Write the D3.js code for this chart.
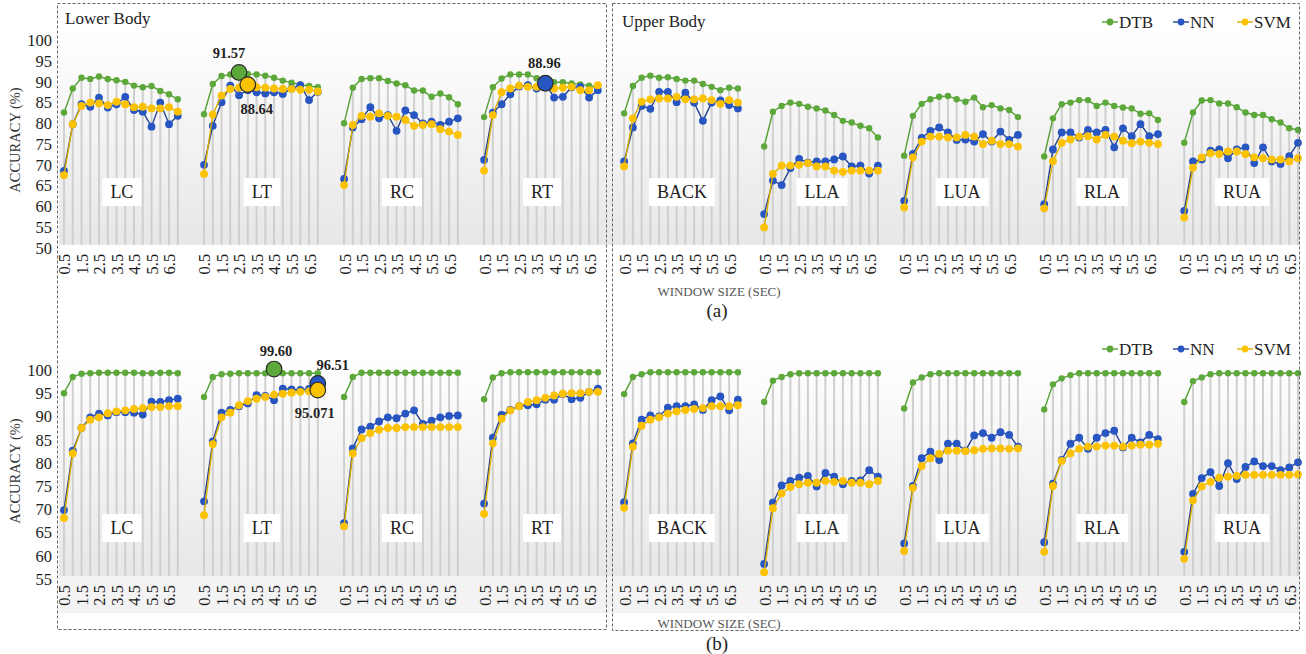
<!DOCTYPE html>
<html>
<head>
<meta charset="utf-8">
<script src="https://cdn.jsdelivr.net/npm/d3@7"></script>
<style>
body { margin: 0; background: #fff; }
svg { display: block; font-family: "Liberation Serif", "Times New Roman", serif; }
</style>
</head>
<body>
<svg id="chart" width="1306" height="654"></svg>
<script>
// categories
var groups = ["LC", "LT", "RC", "RT", "BACK", "LLA", "LUA", "RLA", "RUA"];
var windows = [0.5, 1, 1.5, 2, 2.5, 3, 3.5, 4, 4.5, 5, 5.5, 6, 6.5, 7];
var tickWindows = [0.5, 1.5, 2.5, 3.5, 4.5, 5.5, 6.5];
var seriesNames = ["DTB", "NN", "SVM"];

// (a) accuracy, one row per group (same order as groups)
var dtbA = [
  [81.9, 87.7, 90.3, 90.0, 90.6, 90.0, 89.7, 89.3, 88.4, 88.0, 88.3, 87.1, 86.3, 85.1],
  [81.5, 88.8, 90.7, 91.1, 91.57, 91.2, 91.1, 90.8, 90.3, 89.6, 89.1, 88.6, 88.3, 88.0],
  [79.3, 87.9, 90.0, 90.2, 90.2, 89.5, 88.9, 88.5, 87.2, 87.2, 85.7, 86.5, 85.6, 83.9],
  [80.8, 88.0, 90.1, 91.1, 91.1, 91.1, 90.2, 89.8, 89.2, 89.2, 88.9, 88.7, 88.4, 88.1],
  [81.7, 88.3, 90.3, 90.8, 90.3, 90.4, 90.0, 89.6, 89.6, 88.8, 88.1, 87.3, 87.9, 87.7],
  [73.7, 82.1, 83.5, 84.3, 84.0, 83.3, 82.9, 82.4, 81.3, 79.9, 79.5, 78.7, 78.1, 75.9],
  [71.5, 81.1, 84.0, 85.1, 85.7, 85.9, 85.1, 84.5, 85.5, 83.2, 83.7, 82.9, 82.5, 80.8],
  [71.3, 80.5, 83.9, 84.3, 84.9, 84.9, 83.5, 84.3, 83.5, 83.1, 82.9, 81.6, 81.7, 80.1],
  [74.6, 81.9, 84.8, 84.9, 84.1, 84.1, 83.2, 81.9, 81.3, 81.3, 80.3, 79.5, 78.1, 77.7]
];
var nnA = [
  [67.8, 79.1, 83.9, 83.3, 85.5, 83.1, 83.9, 85.7, 82.5, 82.1, 78.5, 84.3, 79.1, 81.1],
  [69.3, 78.7, 84.4, 88.4, 86.1, 87.3, 86.8, 86.5, 86.8, 86.4, 87.7, 88.5, 84.9, 86.9],
  [65.9, 78.3, 80.3, 83.2, 80.5, 81.3, 77.5, 82.4, 81.3, 79.3, 79.7, 78.9, 79.7, 80.5],
  [70.5, 81.9, 83.9, 86.3, 88.2, 88.5, 87.7, 88.96, 85.5, 85.7, 88.0, 88.1, 85.5, 87.3],
  [70.1, 78.3, 83.5, 82.8, 86.9, 86.9, 84.4, 86.7, 84.3, 79.9, 84.3, 84.8, 83.7, 82.9],
  [57.4, 65.5, 64.4, 68.5, 70.7, 69.8, 70.1, 70.1, 70.6, 71.3, 68.9, 69.1, 67.2, 69.1],
  [60.6, 71.9, 75.8, 77.5, 78.3, 77.1, 75.3, 75.4, 74.9, 76.7, 74.9, 77.3, 75.3, 76.5],
  [59.8, 73.0, 77.1, 77.1, 75.9, 77.7, 77.1, 77.7, 73.5, 78.1, 76.2, 79.1, 76.2, 76.7],
  [58.2, 70.1, 70.6, 72.7, 73.0, 70.9, 73.0, 73.5, 69.7, 73.5, 70.1, 69.5, 71.4, 74.6]
];
var svmA = [
  [66.8, 79.1, 83.5, 84.3, 84.1, 83.7, 84.5, 83.9, 83.2, 83.3, 82.9, 82.9, 83.2, 82.1],
  [67.1, 81.4, 86.0, 87.6, 87.9, 88.64, 88.0, 87.9, 87.7, 87.6, 87.6, 87.4, 87.4, 87.0],
  [64.4, 78.9, 81.1, 80.9, 81.7, 81.1, 80.9, 80.1, 78.7, 78.9, 79.1, 77.9, 77.3, 76.5],
  [67.9, 81.3, 86.8, 87.7, 88.4, 88.1, 88.1, 88.1, 87.7, 87.9, 88.1, 87.3, 87.3, 88.5],
  [68.9, 80.5, 84.5, 85.1, 85.3, 85.3, 85.7, 85.1, 85.1, 85.3, 84.9, 84.0, 84.9, 84.3],
  [54.2, 67.1, 69.1, 69.1, 69.3, 69.7, 68.9, 68.9, 67.9, 67.6, 67.9, 67.9, 67.9, 67.9],
  [59.0, 71.1, 74.9, 76.1, 76.1, 75.9, 75.9, 76.5, 76.1, 74.3, 75.1, 74.3, 74.3, 73.7],
  [58.8, 70.2, 74.6, 75.4, 76.1, 76.2, 75.4, 76.5, 76.1, 75.1, 74.5, 74.9, 74.6, 74.3],
  [56.6, 68.6, 71.1, 72.1, 71.9, 72.5, 72.5, 71.9, 71.1, 70.9, 70.6, 70.6, 70.1, 70.9]
];

// (b) accuracy
var dtbB = [
  [94.4, 97.9, 98.6, 98.7, 98.8, 98.8, 98.8, 98.8, 98.8, 98.7, 98.7, 98.8, 98.8, 98.7],
  [93.6, 97.9, 98.5, 98.6, 98.7, 98.7, 98.7, 98.7, 99.60, 98.7, 98.7, 98.7, 98.7, 98.7],
  [93.6, 97.9, 98.8, 98.8, 98.8, 98.8, 98.8, 98.8, 98.8, 98.8, 98.8, 98.8, 98.8, 98.8],
  [93.1, 97.8, 98.7, 98.9, 98.9, 98.9, 98.9, 98.9, 98.9, 98.9, 98.9, 98.9, 98.9, 98.9],
  [94.2, 97.9, 98.5, 98.9, 98.9, 98.9, 98.9, 98.9, 98.9, 98.9, 98.9, 98.9, 98.9, 98.9],
  [92.5, 97.1, 97.9, 98.5, 98.7, 98.7, 98.7, 98.7, 98.7, 98.7, 98.7, 98.7, 98.7, 98.7],
  [91.1, 96.7, 97.8, 98.5, 98.7, 98.7, 98.7, 98.7, 98.7, 98.7, 98.7, 98.7, 98.7, 98.7],
  [90.9, 96.3, 97.6, 98.3, 98.7, 98.7, 98.7, 98.7, 98.7, 98.7, 98.7, 98.7, 98.7, 98.7],
  [92.5, 97.0, 97.8, 98.5, 98.7, 98.7, 98.7, 98.7, 98.7, 98.7, 98.7, 98.7, 98.7, 98.7]
];
var nnB = [
  [69.2, 82.0, 86.9, 89.2, 90.0, 89.6, 90.3, 90.3, 90.2, 89.8, 92.6, 92.5, 92.9, 93.2],
  [71.1, 84.0, 90.2, 90.8, 91.6, 92.2, 94.0, 93.8, 92.9, 95.4, 95.2, 95.1, 95.3, 96.51],
  [66.4, 82.5, 86.6, 87.2, 88.3, 89.2, 89.0, 90.0, 90.7, 87.8, 88.5, 89.2, 89.5, 89.6],
  [70.6, 84.8, 89.7, 90.8, 91.6, 91.8, 92.0, 93.0, 93.0, 94.2, 93.1, 93.4, 94.7, 95.4],
  [70.9, 83.6, 88.7, 89.6, 89.4, 91.3, 91.6, 91.6, 92.0, 90.8, 92.9, 93.7, 90.7, 93.0],
  [57.6, 70.8, 74.5, 75.5, 76.2, 76.6, 74.3, 77.2, 76.4, 74.8, 75.5, 75.6, 77.8, 76.4],
  [62.0, 74.4, 80.4, 81.8, 80.0, 83.5, 83.5, 82.0, 85.3, 85.8, 84.8, 86.0, 85.4, 82.9],
  [62.3, 74.9, 80.0, 83.5, 84.8, 82.4, 84.8, 85.8, 86.3, 82.7, 84.8, 83.8, 85.4, 84.5],
  [60.2, 72.7, 76.1, 77.4, 74.4, 79.3, 75.9, 78.5, 79.7, 78.7, 78.7, 77.8, 78.4, 79.5]
];
var svmB = [
  [67.5, 81.4, 86.9, 88.7, 89.2, 90.1, 90.5, 90.7, 91.0, 91.2, 91.4, 91.4, 91.6, 91.6],
  [68.1, 83.4, 89.2, 90.2, 91.8, 92.7, 93.2, 93.6, 94.1, 94.3, 94.5, 94.7, 94.8, 95.071],
  [65.7, 81.4, 84.7, 85.8, 86.5, 86.9, 86.9, 87.1, 87.1, 87.1, 87.1, 87.1, 87.1, 87.1],
  [68.4, 83.6, 88.9, 90.7, 91.6, 92.5, 92.9, 93.4, 93.9, 94.3, 94.4, 94.4, 94.7, 94.7],
  [69.7, 82.9, 87.4, 88.7, 89.2, 90.0, 90.5, 90.8, 91.0, 91.2, 91.6, 91.6, 91.6, 91.8],
  [55.8, 69.6, 72.8, 74.2, 74.8, 75.1, 75.1, 75.5, 75.3, 75.5, 75.1, 75.1, 74.8, 75.5],
  [60.4, 74.0, 78.7, 80.4, 81.3, 82.0, 82.0, 81.9, 82.1, 82.4, 82.5, 82.5, 82.4, 82.5],
  [60.2, 74.4, 79.8, 81.4, 82.4, 82.9, 82.9, 83.1, 83.1, 82.9, 83.1, 83.3, 83.3, 83.5],
  [58.7, 71.3, 74.3, 75.3, 76.2, 76.4, 76.6, 76.8, 76.8, 76.8, 76.8, 76.8, 76.8, 76.9]
];

// highlighted best results
var highlightsA = [
  { group: "LT", series: "DTB", w: 2.5, label: "91.57" },
  { group: "LT", series: "SVM", w: 3, label: "88.64" },
  { group: "RT", series: "NN", w: 4, label: "88.96" }
];
var highlightsB = [
  { group: "LT", series: "DTB", w: 4.5, label: "99.60" },
  { group: "LT", series: "NN", w: 7, label: "96.51" },
  { group: "LT", series: "SVM", w: 7, label: "95.071" }
];

// label placement for the highlight numbers (pixels from the circle)
var hlOffsets = {
  "91.57": [-10, -20], "88.64": [9, 24], "88.96": [-1, -20],
  "99.60": [2, -18], "96.51": [15, -18], "95.071": [-3, 23]
};

var colors = { DTB: "#5da83b", NN: "#2756c2", SVM: "#fcc200" };
var lineColors = { DTB: "#53a032", NN: "#22418f", SVM: "#dcae00" };
var radius = { DTB: 3.2, NN: 3.9, SVM: 3.9 };

var svg = d3.select("#chart");
var defs = svg.append("defs");
var grad = defs.append("linearGradient").attr("id", "plotFill")
  .attr("x1", 0).attr("y1", 0).attr("x2", 0).attr("y2", 1);
grad.append("stop").attr("offset", "0%").attr("stop-color", "#ffffff");
grad.append("stop").attr("offset", "100%").attr("stop-color", "#e7e7e7");

// one long category axis, two empty slots between groups
var slots = [];
groups.forEach(function(g, gi) {
  if (gi > 0) { slots.push("gap" + gi + "a"); slots.push("gap" + gi + "b"); }
  windows.forEach(function(w) { slots.push(g + "|" + w); });
});
var x = d3.scalePoint().domain(slots).range([64, 1298]);
function key(g, w) { return g + "|" + w; }

var tickSlots = [];
groups.forEach(function(g) {
  tickWindows.forEach(function(w) { tickSlots.push(key(g, w)); });
});

var panels = [
  { data: { DTB: dtbA, NN: nnA, SVM: svmA }, highlights: highlightsA,
    domain: [50, 100], range: [244.8, 37.5], ticks: d3.range(50, 101, 5),
    fillTop: 28, labelBand: false, legendY: 22, groupLabelY: 192,
    axisTitleY: 140, winTitleY: 291, caption: "(a)", captionY: 310 },
  { data: { DTB: dtbB, NN: nnB, SVM: svmB }, highlights: highlightsB,
    domain: [55, 100], range: [576, 367.2], ticks: d3.range(55, 101, 5),
    fillTop: 355, labelBand: true, legendY: 349, groupLabelY: 528,
    axisTitleY: 471, winTitleY: 623, caption: "(b)", captionY: 643 }
];

panels.forEach(function(p) {
  var y = d3.scaleLinear().domain(p.domain).range(p.range);
  var base = y(p.domain[0]);
  var g = svg.append("g");

  if (p.labelBand) {
    g.append("rect").attr("x", 59).attr("y", base).attr("width", 1240).attr("height", 37)
      .attr("fill", "#f3f3f3");
  }
  g.append("rect").attr("x", 59).attr("y", p.fillTop).attr("width", 1240)
    .attr("height", base - p.fillTop).attr("fill", "url(#plotFill)");

  // y axis labels
  var ya = g.append("g").attr("transform", "translate(52,0)")
    .call(d3.axisLeft(y).tickValues(p.ticks).tickSize(0).tickPadding(0));
  ya.select(".domain").remove();
  ya.attr("font-family", null).attr("font-size", null);
  ya.selectAll("text").attr("font-size", 16.5).attr("fill", "#222").attr("dy", "0.5em");

  // x axis labels, rotated
  var xa = g.append("g").attr("transform", "translate(0," + (base + 9) + ")")
    .call(d3.axisBottom(x).tickValues(tickSlots).tickSize(0)
      .tickFormat(function(d) { return d3.format(".1f")(+d.split("|")[1]); }));
  xa.select(".domain").remove();
  xa.attr("font-family", null).attr("font-size", null);
  xa.selectAll("text")
    .attr("transform", "rotate(-90)")
    .attr("x", 0).attr("y", 0).attr("dy", "0.36em")
    .attr("text-anchor", "end")
    .attr("font-size", 16.5).attr("fill", "#1a1a1a");

  // drop lines from the highest point
  groups.forEach(function(grp, gi) {
    windows.forEach(function(w, wi) {
      var top = d3.max(seriesNames, function(s) { return p.data[s][gi][wi]; });
      g.append("line")
        .attr("x1", x(key(grp, w))).attr("x2", x(key(grp, w)))
        .attr("y1", y(top)).attr("y2", base)
        .attr("stroke", "#cfcfcf").attr("stroke-width", 2);
    });
  });

  // group name boxes
  groups.forEach(function(grp) {
    var cx = (x(key(grp, windows[0])) + x(key(grp, windows[windows.length - 1]))) / 2 + 1;
    var t = g.append("text").attr("x", cx).attr("y", p.groupLabelY)
      .attr("dy", "0.35em").attr("text-anchor", "middle")
      .attr("font-size", 18).attr("fill", "#222").text(grp);
    var bb = t.node().getBBox();
    g.insert("rect", function() { return t.node(); })
      .attr("x", bb.x - 8).attr("y", p.groupLabelY - 14)
      .attr("width", bb.width + 16).attr("height", 28).attr("fill", "#fff");
  });

  // series lines and markers
  var line = d3.line()
    .x(function(d) { return x(key(d.g, d.w)); })
    .y(function(d) { return y(d.v); });
  seriesNames.forEach(function(s) {
    groups.forEach(function(grp, gi) {
      var pts = windows.map(function(w, wi) { return { g: grp, w: w, v: p.data[s][gi][wi] }; });
      g.append("path").datum(pts).attr("d", line)
        .attr("fill", "none").attr("stroke", lineColors[s]).attr("stroke-width", 1.4);
      g.selectAll(null).data(pts).enter().append("circle")
        .attr("cx", function(d) { return x(key(d.g, d.w)); })
        .attr("cy", function(d) { return y(d.v); })
        .attr("r", radius[s]).attr("fill", colors[s]);
    });
  });

  // highlighted best points
  p.highlights.forEach(function(h) {
    var gi = groups.indexOf(h.group), wi = windows.indexOf(h.w);
    var v = p.data[h.series][gi][wi];
    var cx = x(key(h.group, h.w)), cy = y(v);
    g.append("circle").attr("cx", cx).attr("cy", cy).attr("r", 7.8)
      .attr("fill", colors[h.series]).attr("stroke", "#2b2b2b").attr("stroke-width", 1.2);
    var off = hlOffsets[h.label];
    g.append("text").attr("x", cx + off[0]).attr("y", cy + off[1]).attr("dy", "0.35em")
      .attr("text-anchor", "middle").attr("font-size", 14.5).attr("font-weight", "bold")
      .attr("fill", "#222").text(h.label);
  });

  // legend
  var legendX = { DTB: 1102, NN: 1173, SVM: 1237 };
  seriesNames.forEach(function(s) {
    var lx = legendX[s];
    g.append("line").attr("x1", lx).attr("x2", lx + 16)
      .attr("y1", p.legendY).attr("y2", p.legendY)
      .attr("stroke", lineColors[s]).attr("stroke-width", 1.4);
    g.append("circle").attr("cx", lx + 8).attr("cy", p.legendY).attr("r", 3.4).attr("fill", colors[s]);
    g.append("text").attr("x", lx + 17).attr("y", p.legendY).attr("dy", "0.35em")
      .attr("font-size", 17).attr("fill", "#222").text(s);
  });

  // axis titles and caption
  g.append("text").attr("transform", "translate(15," + p.axisTitleY + ") rotate(-90)")
    .attr("dy", "0.35em").attr("text-anchor", "middle")
    .attr("font-size", 14.5).attr("fill", "#333").text("ACCURACY (%)");
  g.append("text").attr("x", 719).attr("y", p.winTitleY).attr("dy", "0.35em")
    .attr("text-anchor", "middle").attr("font-size", 13).attr("fill", "#555")
    .text("WINDOW SIZE (SEC)");
  g.append("text").attr("x", 717).attr("y", p.captionY).attr("dy", "0.35em")
    .attr("text-anchor", "middle").attr("font-size", 19).attr("fill", "#222")
    .text(p.caption);
});

// section frames and titles
svg.append("rect").attr("x", 57.5).attr("y", 3.5).attr("width", 549).attr("height", 626)
  .attr("fill", "none").attr("stroke", "#666").attr("stroke-dasharray", "3,2");
svg.append("rect").attr("x", 612.5).attr("y", 3.5).attr("width", 687).attr("height", 627)
  .attr("fill", "none").attr("stroke", "#666").attr("stroke-dasharray", "3,2");
svg.append("text").attr("x", 65).attr("y", 18).attr("dy", "0.35em")
  .attr("font-size", 17).attr("fill", "#222").text("Lower Body");
svg.append("text").attr("x", 622).attr("y", 21).attr("dy", "0.35em")
  .attr("font-size", 17).attr("fill", "#222").text("Upper Body");
</script>
</body>
</html>
